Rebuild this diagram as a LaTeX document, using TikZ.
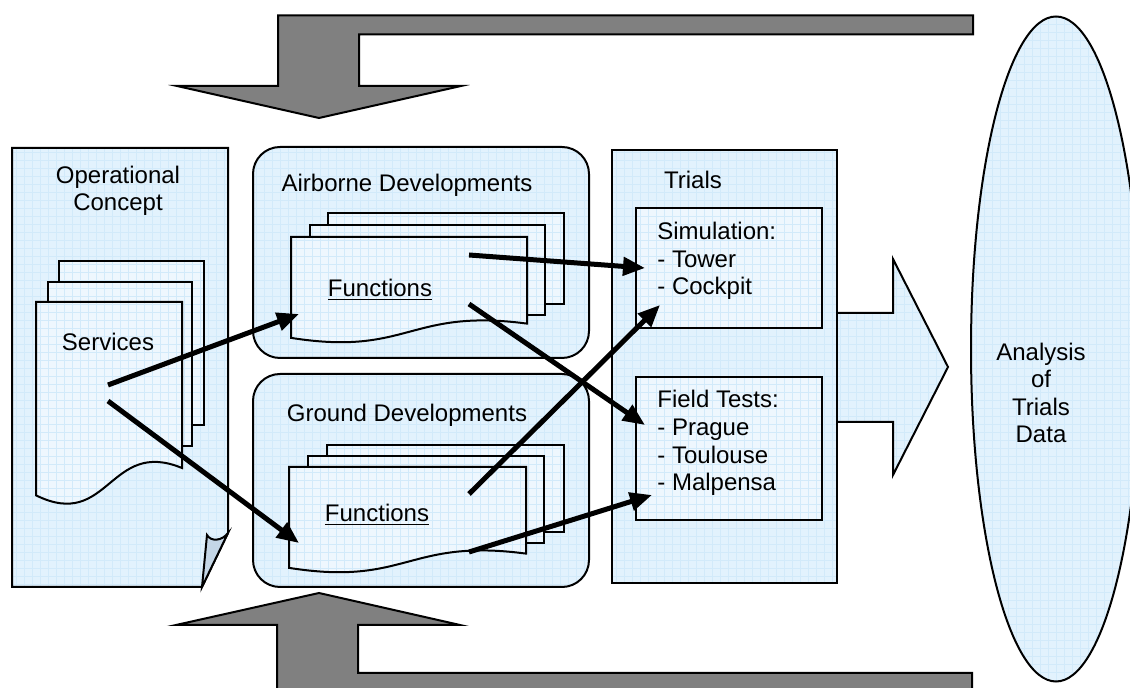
\documentclass[tikz,border=0pt]{standalone}
\usepackage{fontspec}
\setmainfont{Liberation Sans}
\usetikzlibrary{arrows.meta}
\definecolor{panelblue}{RGB}{226,242,253}
\definecolor{docblue}{RGB}{238,247,254}
\definecolor{gridblue}{RGB}{210,234,250}
\definecolor{flapblue}{RGB}{196,214,230}
\definecolor{arrowgray}{RGB}{128,128,128}
\tikzset{
  figfont/.style={font=\fontsize{12}{13.8}\selectfont},
  figgrid/.style={path picture={\draw[gridblue, line width=0.3pt, step=4pt]
      (path picture bounding box.south west) grid (path picture bounding box.north east);}},
  figpanel/.style={draw, line width=1pt, fill=panelblue, figgrid},
  figdoc/.style={draw, line width=1pt, fill=docblue, figgrid},
  figgrayarrow/.style={draw, line width=1pt, fill=arrowgray},
  figtext/.style={align=center, inner sep=0pt},
  figlist/.style={align=left, anchor=west, inner sep=0pt},
  figarrow/.style={-{Triangle[length=11pt, width=9pt]}, line width=2.5pt},
}
% front page of a stack: corners x1,y1 to x2, height h
\newcommand{\figdocpage}[4]{%
  \draw[figdoc] (#1,#2) -- (#3,#2) -- (#3,{#2+0.802*#4})
    .. controls ({(#1+#3)/2},{#2+0.656*#4}) and ({(#1+#3)/2},{#2+1.1075*#4})
    .. (#1,{#2+0.934*#4}) -- cycle;}
\begin{document}
\begin{tikzpicture}[x=0.5pt, y=-0.5pt, figfont]
  \useasboundingbox (0,0) rectangle (1130,688);
  \clip (0,0) rectangle (1130,688);

  % Feedback arrows, top and bottom
  \draw[figgrayarrow] (973,15.5) -- (278,15.5) -- (278,86) -- (177,86) -- (319,118)
    -- (461,86) -- (359,86) -- (359,34.5) -- (973,34.5) -- cycle;
  \draw[figgrayarrow] (972,673) -- (358,673) -- (358,625) -- (460,625) -- (319,593)
    -- (176,625) -- (277,625) -- (277,695) -- (972,695) -- cycle;

  % Big arrow from trials to analysis
  \draw[figpanel] (820,313) -- (893,313) -- (893,259) -- (948,367) -- (893,475)
    -- (893,422) -- (820,422) -- cycle;

  % Operational concept
  \draw[figpanel] (12,148) -- (228,148) -- (228,533) -- (202,587) -- (12,587) -- cycle;
  \draw[line width=1pt, fill=flapblue] (228,533) .. controls (222,541) and (211,542)
    .. (207,535) -- (202,587) -- cycle;
  \node (opTitle) [figtext] at (118,191) {Operational\\Concept};
  \draw[figdoc] (59,261) rectangle (204,425);
  \draw[figdoc] (48,282) rectangle (192,446);
  \figdocpage{36}{302}{182}{207}
  \node (services) [figtext] at (108,342) {Services};

  % Airborne developments
  \draw[figpanel, rounded corners=13.5pt] (253,147) rectangle (589,358);
  \node (airTitle) [figtext] at (407,185) {Airborne Developments};
  \draw[figdoc] (328,213) rectangle (564,304);
  \draw[figdoc] (310,225) rectangle (545,315);
  \figdocpage{291}{237}{527}{108}
  \node (airFunc) [figtext] at (380,290) {\underline{Functions}};

  % Ground developments
  \draw[figpanel, rounded corners=13.5pt] (253,374) rectangle (589,587);
  \node (gndTitle) [figtext] at (407,415) {Ground Developments};
  \draw[figdoc] (327,445) rectangle (564,532);
  \draw[figdoc] (308,456) rectangle (544,543);
  \figdocpage{289}{467}{526}{108}
  \node (gndFunc) [figtext] at (377,515) {\underline{Functions}};

  % Trials
  \draw[figpanel] (612,150) rectangle (837,583);
  \node (trials) [figtext] at (693,180) {Trials};
  \draw[figdoc] (636,208) rectangle (822,328);
  \node (sim) [figlist] at (657,261) {Simulation:\\- Tower\\- Cockpit};
  \draw[figdoc] (636,377) rectangle (822,520);
  \node (field) [figlist] at (657,443) {Field Tests:\\- Prague\\- Toulouse\\- Malpensa};

  % Analysis
  \draw[figpanel] (1056,349) ellipse [x radius=85, y radius=332.5];
  \node (analysis) [figtext] at (1041,393) {Analysis\\of\\Trials\\Data};

  % Flow arrows
  \coordinate (srvUp) at (108,385);
  \coordinate (srvDown) at (108,401);
  \coordinate (airIn) at (299,314);
  \coordinate (gndIn) at (299,543);
  \coordinate (airOutA) at (469,255);
  \coordinate (airOutB) at (469,304);
  \coordinate (gndOutA) at (469,494);
  \coordinate (gndOutB) at (469,552);
  \coordinate (simInA) at (645,268);
  \coordinate (simInB) at (660,305);
  \coordinate (fieldInA) at (645,425);
  \coordinate (fieldInB) at (652,495);
  \draw[figarrow] (srvUp) -- (airIn);
  \draw[figarrow] (srvDown) -- (gndIn);
  \draw[figarrow] (airOutA) -- (simInA);
  \draw[figarrow] (airOutB) -- (fieldInA);
  \draw[figarrow] (gndOutA) -- (simInB);
  \draw[figarrow] (gndOutB) -- (fieldInB);
\end{tikzpicture}
\end{document}
